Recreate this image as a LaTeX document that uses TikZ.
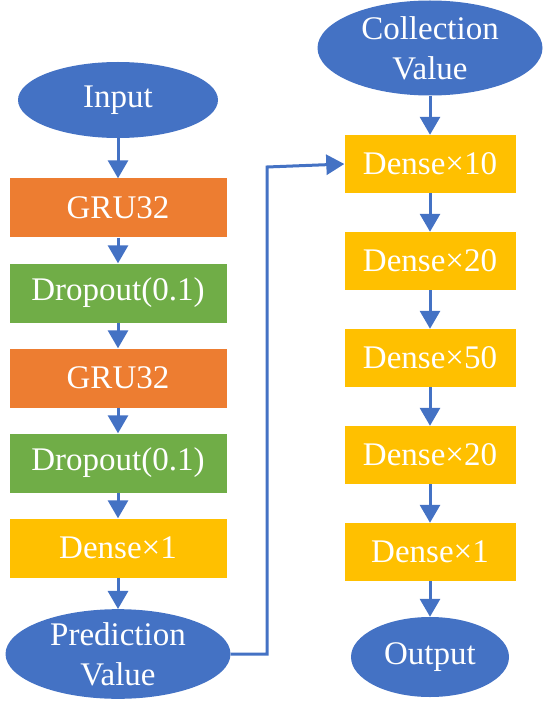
\documentclass[tikz,border=0pt]{standalone}
\usepackage{fontspec}
\setmainfont{Liberation Serif}
\usetikzlibrary{positioning, arrows.meta, calc, shapes.geometric}
\usepackage{xcolor}
\definecolor{ioblue}{HTML}{4472C4}
\definecolor{gruorange}{HTML}{ED7D31}
\definecolor{dropgreen}{HTML}{70AD47}
\definecolor{densegold}{HTML}{FFC000}

\begin{document}
\begin{tikzpicture}[
  x=1pt, y=-1pt,
  every node/.style={font=\rmfamily\fontsize{33}{40}\selectfont, text=white},
  terminal/.style={
    ellipse, fill=ioblue, inner sep=0pt, align=center
  },
  layerbox/.style={
    rectangle, inner sep=0pt,
    minimum width=217pt, minimum height=59pt, align=center
  },
  densebox/.style={
    rectangle, fill=densegold, inner sep=0pt,
    minimum width=171pt, minimum height=58pt, align=center
  },
  flow/.style={draw=ioblue, line width=3pt,
    -{Triangle[width=20pt, length=18pt]}}
]
\useasboundingbox (0,0) rectangle (550,708);

% ---- Left branch ----
\node[terminal, minimum width=200pt, minimum height=76pt]
  (input) at (118,100) {Input};
\node[layerbox, fill=gruorange] (gruA) at (118,208) {GRU32};
\node[layerbox, fill=dropgreen] (dropA) at (118,293) {Dropout(0.1)};
\node[layerbox, fill=gruorange] (gruB) at (118,378) {GRU32};
\node[layerbox, fill=dropgreen] (dropB) at (118,463) {Dropout(0.1)};
\node[layerbox, fill=densegold] (denseA) at (118,548) {Dense×1};
\node[terminal, minimum width=225pt, minimum height=88pt]
  (pred) at (118,654) {Prediction\\Value};

% ---- Right branch ----
\node[terminal, minimum width=225pt, minimum height=95pt]
  (coll) at (430,48) {Collection\\Value};
\node[densebox] (dTen) at (430,164) {Dense×10};
\node[densebox] (dTwentyA) at (430,261) {Dense×20};
\node[densebox] (dFifty) at (430,358) {Dense×50};
\node[densebox] (dTwentyB) at (430,455) {Dense×20};
\node[densebox] (dOne) at (430,552) {Dense×1};
\node[terminal, minimum width=158pt, minimum height=80pt]
  (output) at (430,657) {Output};

% ---- Arrows: left chain ----
\draw[flow] (input) -- (gruA);
\draw[flow] (gruA) -- (dropA);
\draw[flow] (dropA) -- (gruB);
\draw[flow] (gruB) -- (dropB);
\draw[flow] (dropB) -- (denseA);
\draw[flow] (denseA) -- (pred);

% ---- Arrow: prediction feeds right chain ----
\coordinate (bend) at (267,167);
\draw[flow] (pred.east) -| (bend) -- (dTen.west);

% ---- Arrows: right chain ----
\draw[flow] (coll) -- (dTen);
\draw[flow] (dTen) -- (dTwentyA);
\draw[flow] (dTwentyA) -- (dFifty);
\draw[flow] (dFifty) -- (dTwentyB);
\draw[flow] (dTwentyB) -- (dOne);
\draw[flow] (dOne) -- (output);

\end{tikzpicture}
\end{document}
